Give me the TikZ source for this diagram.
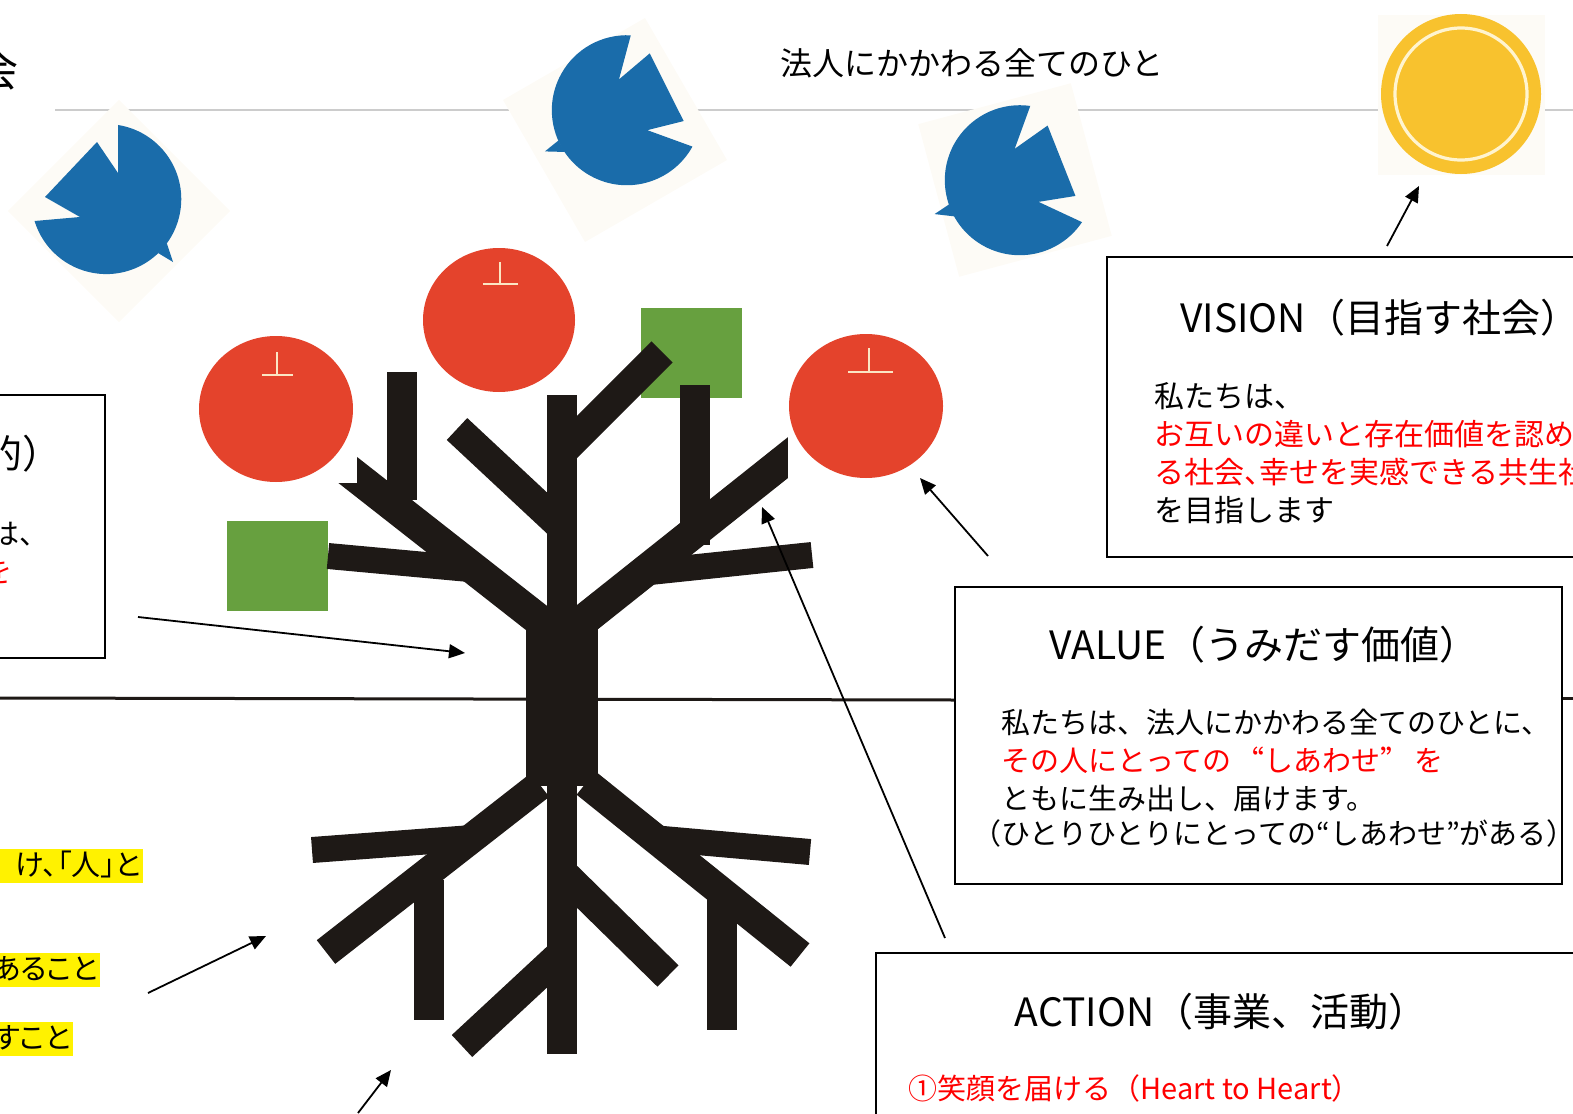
\documentclass[tikz,border=0pt]{standalone}
\usepackage{fontspec}
\setmainfont{Noto Sans CJK JP}
\newfontfamily\paltfont{Noto Sans CJK JP}[RawFeature=+palt]
\newfontfamily\fwidfont{Noto Sans CJK JP}[RawFeature=+fwid]
\usetikzlibrary{arrows.meta}

\definecolor{bark}{HTML}{1E1916}
\definecolor{applered}{HTML}{E4432C}
\definecolor{leafgreen}{HTML}{67A03F}
\definecolor{birdblue}{HTML}{1A6CAA}
\definecolor{sunyellow}{HTML}{F8C22E}
\definecolor{suncream}{HTML}{FFF4CF}
\definecolor{haze}{HTML}{FDFBF6}
\definecolor{stem}{HTML}{FBE6C4}

\newcommand{\wq}[1]{{\fwidfont #1}}

\tikzset{
  bird/.pic={
    \fill[birdblue] (12,-74) arc[start angle=-81,end angle=163,radius=75]
      -- (-26,18) -- (-61,-2) -- (-9,-57) -- (12,-26) -- cycle;
    \fill[birdblue] (60.7,44.1) -- (67,63) -- (52.1,54) -- cycle;
  }
}

\begin{document}
\begin{tikzpicture}[x=0.5pt,y=-0.5pt,>={Triangle[length=8pt,width=7pt]},
    arr/.style={->,line width=0.9pt},
    box/.style={draw,line width=1.1pt,fill=white,inner sep=0pt},
    ttl/.style={inner sep=0pt,font=\fontsize{19.5}{23}\selectfont},
    body/.style={inner sep=0pt,align=left,font=\fontsize{14.5}{19}\selectfont},
    hilite/.style={fill=yellow,inner xsep=1pt,inner ysep=1.25pt,text height=12.2pt,
                   text depth=2.3pt,font=\paltfont\fontsize{14.5}{19}\selectfont},
    backing/.style={fill=haze,inner sep=0pt},
    branch/.style={draw=bark,line width=15pt},
    twig/.style={draw=bark,line width=13pt},
    limb/.style={draw=bark,line width=16pt},
    stalk/.style={draw=stem,line width=1.4pt}]
  \useasboundingbox (0,0) rectangle (1573,1113);

  \draw[gray!40,line width=0.8pt] (55,110) -- (1573,110);

  % birds and sun
  \node[backing,minimum size=78.5pt,rotate=45] (bgA) at (119,211) {};
  \node[backing,minimum size=82pt,rotate=30] (bgB) at (615,130) {};
  \node[backing,minimum size=79pt,rotate=15] (bgC) at (1015,180) {};
  \node[backing,minimum width=83.5pt,minimum height=80pt] (bgsun) at (1461,95) {};
  \pic (birdA) at (106,199) {bird};
  \pic[rotate=-110] (birdB) at (627,110) {bird};
  \pic[rotate=-115] (birdC) at (1020,180) {bird};
  \fill[sunyellow] (1461,94) circle[radius=80];
  \draw[suncream,line width=1.6pt] (1461,94) circle[radius=66];

  % leaves
  \fill[leafgreen] (227,521) rectangle (328,611);
  \fill[leafgreen] (641,308) rectangle (742,398);

  % crown
  \fill[bark] (526,612) rectangle (598,786);
  \draw[branch] (562,395) -- (562,640);
  \draw[branch] (562,452) -- (662,352);
  \draw[branch] (457,429) -- (562,527);
  \draw[limb] (335,460) -- (548,627);
  \draw[branch] (402,372) -- (402,500);
  \draw[twig] (328,556) -- (480,570);
  \draw[branch] (695,385) -- (695,545);
  \draw[limb] (575,627) -- (800,448);
  \draw[twig] (650,572) -- (812,555);
  % roots
  \draw[branch] (562,760) -- (562,1054);
  \draw[branch] (540,785) -- (326,952);
  \draw[twig] (312,850) -- (472,838);
  \draw[branch] (429,880) -- (429,1020);
  \draw[branch] (560,955) -- (462,1046);
  \draw[branch] (565,875) -- (668,976);
  \draw[branch] (586,783) -- (800,955);
  \draw[twig] (652,838) -- (810,852);
  \draw[branch] (722,888) -- (722,1030);

  % apples
  \fill[white] (188,328) rectangle (357,483);
  \fill[white] (788,328) rectangle (952,487);
  \fill[applered] (276,409) ellipse[x radius=77,y radius=73];
  \fill[applered] (499,320) ellipse[x radius=76,y radius=72];
  \fill[applered] (866,406) ellipse[x radius=77,y radius=72];
  \draw[stalk] (277,352) -- (277,375) (262,375) -- (293,375);
  \draw[stalk] (500,262) -- (500,284) (483,284) -- (518,284);
  \draw[stalk] (869,348) -- (869,371) (848,372) -- (893,372);

  % ground
  \draw[bark,line width=1.5pt] (0,698) -- (955,700);
  \draw[bark,line width=1.5pt] (1562,698) -- (1573,698);

  \node[box,minimum width=77.5pt,minimum height=131.5pt] (mission) at (27.5,526.5) {};
  \node[box,minimum width=296.5pt,minimum height=150pt] (vision) at (1403.5,407) {};
  \node[box,minimum width=303.5pt,minimum height=148.5pt] (value) at (1258.5,735.5) {};
  \node[box,minimum width=412pt,minimum height=123.5pt] (action) at (1288,1076.5) {};

  \node[anchor=east,inner sep=0pt,font=\fontsize{22}{26}\selectfont] (kai) at (19,70) {会};
  \node[anchor=west,inner sep=0pt,font=\fontsize{16}{19}\selectfont] (everyone) at (780,63) {法人にかかわる全てのひと};

  \node[ttl,anchor=west] (mtitle) at (-17,454) {的）};
  \node[body,anchor=west] (mline) at (-10,534) {は、};
  \node[body,anchor=west,text=red] (mred) at (-17,572) {を};

  \node[ttl,anchor=west] (vtitle) at (1180,318) {VISION（目指す社会）};
  \node[body,anchor=north west,font=\fontsize{15}{19}\selectfont] (vtext) at (1154,382) {私たちは、\\
    \textcolor{red}{お互いの違いと存在価値を認め}\\
    \textcolor{red}{る社会{\paltfont 、}幸せを実感できる共生社}\\
    を目指します};

  \node[ttl] (ltitle) at (1264,645) {VALUE（うみだす価値）};
  \node[body,anchor=north west] (ltext) at (1001,709) {私たちは、法人にかかわる全てのひとに、\\
    \textcolor{red}{その人にとっての\,\wq{“}しあわせ\wq{”}\,を}\\
    ともに生み出し、届けます。};
  \node[body,anchor=west] (lnote) at (972,833) {（ひとりひとりにとっての“しあわせ”がある）};

  \node[ttl] (atitle) at (1221,1012) {ACTION（事業、活動）};
  \node[body,anchor=west,text=red] (aline) at (908,1088) {①笑顔を届ける（Heart to Heart）};

  \node[hilite,anchor=east] (root1) at (143,866) {\hspace*{12pt}け、「人」と};
  \node[hilite,anchor=east] (root2) at (100,970) {あること};
  \node[hilite,anchor=east] (root3) at (73,1039) {すこと};

  % pointers
  \coordinate (sunfoot) at (1387,246);
  \coordinate (sunpt) at (1419,186);
  \coordinate (fruitfoot) at (988,556);
  \coordinate (fruitpt) at (920,478);
  \coordinate (workfoot) at (945,938);
  \coordinate (workpt) at (762,507);
  \coordinate (trunkfoot) at (138,617);
  \coordinate (trunkpt) at (465,653);
  \coordinate (rootfoot) at (148,993);
  \coordinate (rootpt) at (266,936);
  \coordinate (soilfoot) at (358,1113);
  \coordinate (soilpt) at (391,1070);
  \draw[arr] (sunfoot) -- (sunpt);
  \draw[arr] (fruitfoot) -- (fruitpt);
  \draw[arr] (workfoot) -- (workpt);
  \draw[arr] (trunkfoot) -- (trunkpt);
  \draw[arr] (rootfoot) -- (rootpt);
  \draw[arr] (soilfoot) -- (soilpt);
\end{tikzpicture}
\end{document}
